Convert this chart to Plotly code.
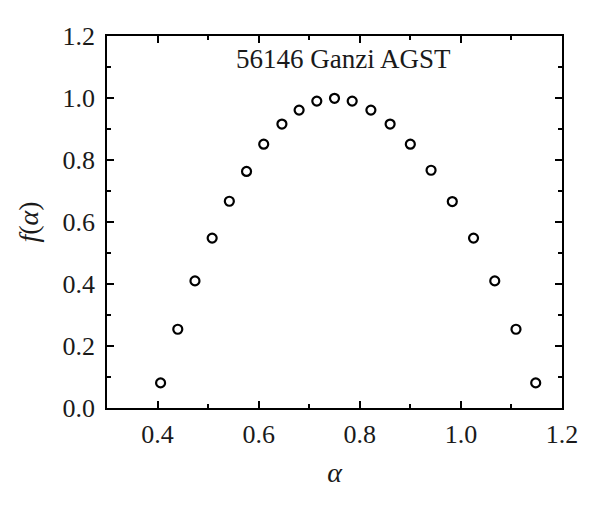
import plotly.graph_objects as go

alpha = [0.406, 0.440, 0.474, 0.508, 0.542, 0.576, 0.610, 0.646, 0.680, 0.715, 0.750,
         0.785, 0.822, 0.860, 0.900, 0.941, 0.983, 1.025, 1.067, 1.109, 1.148]
f_alpha = [0.081, 0.254, 0.410, 0.548, 0.667, 0.763, 0.851, 0.916, 0.961, 0.990, 0.999,
           0.990, 0.961, 0.916, 0.851, 0.767, 0.666, 0.548, 0.410, 0.254, 0.081]
x_ticks = [0.4, 0.6, 0.8, 1.0, 1.2]
y_ticks = [0.0, 0.2, 0.4, 0.6, 0.8, 1.0, 1.2]
label = "56146 Ganzi AGST"

FONT = "Liberation Serif, DejaVu Serif, serif"
TXT = "#1a1a1a"

fig = go.Figure(go.Scatter(
    x=alpha, y=f_alpha, mode="markers",
    marker=dict(symbol="circle-open", size=9, color="black", line=dict(width=2.2, color="black")),
    showlegend=False,
))

axis_common = dict(
    showline=True, linecolor="black", linewidth=1.5, mirror="ticks",
    ticks="inside", ticklen=7, tickwidth=1.5, tickcolor="black",
    showgrid=False, zeroline=False, automargin=False,
    tickfont=dict(family=FONT, size=26, color=TXT),
)

fig.update_xaxes(
    range=[0.3, 1.2], tickvals=x_ticks, ticktext=[f"{v:.1f}" for v in x_ticks],
    minor=dict(dtick=0.1, tick0=0.3, ticks="inside", ticklen=4, tickwidth=1.5, tickcolor="black"),
    title=dict(text="<i>α</i>", font=dict(family=FONT, size=28, color=TXT), standoff=14),
    ticklabelstandoff=2,
    **axis_common,
)
fig.update_yaxes(
    range=[0, 1.2], tickvals=y_ticks, ticktext=[f"{v:.1f}" for v in y_ticks],
    minor=dict(dtick=0.1, tick0=0, ticks="inside", ticklen=4, tickwidth=1.5, tickcolor="black"),
    title=dict(text="<i>f</i>(<i>α</i>)", font=dict(family=FONT, size=28, color=TXT), standoff=16),
    ticklabelstandoff=5,
    **axis_common,
)

fig.add_annotation(
    x=0.52, y=1.0, xref="paper", yref="paper", xanchor="center", yanchor="top",
    text=label, showarrow=False, yshift=-6,
    font=dict(family=FONT, size=27, color=TXT),
)

fig.update_layout(
    width=600, height=511,
    margin=dict(l=99, r=46, t=28, b=111),
    paper_bgcolor="white", plot_bgcolor="white",
)

fig.write_html("out.html")
